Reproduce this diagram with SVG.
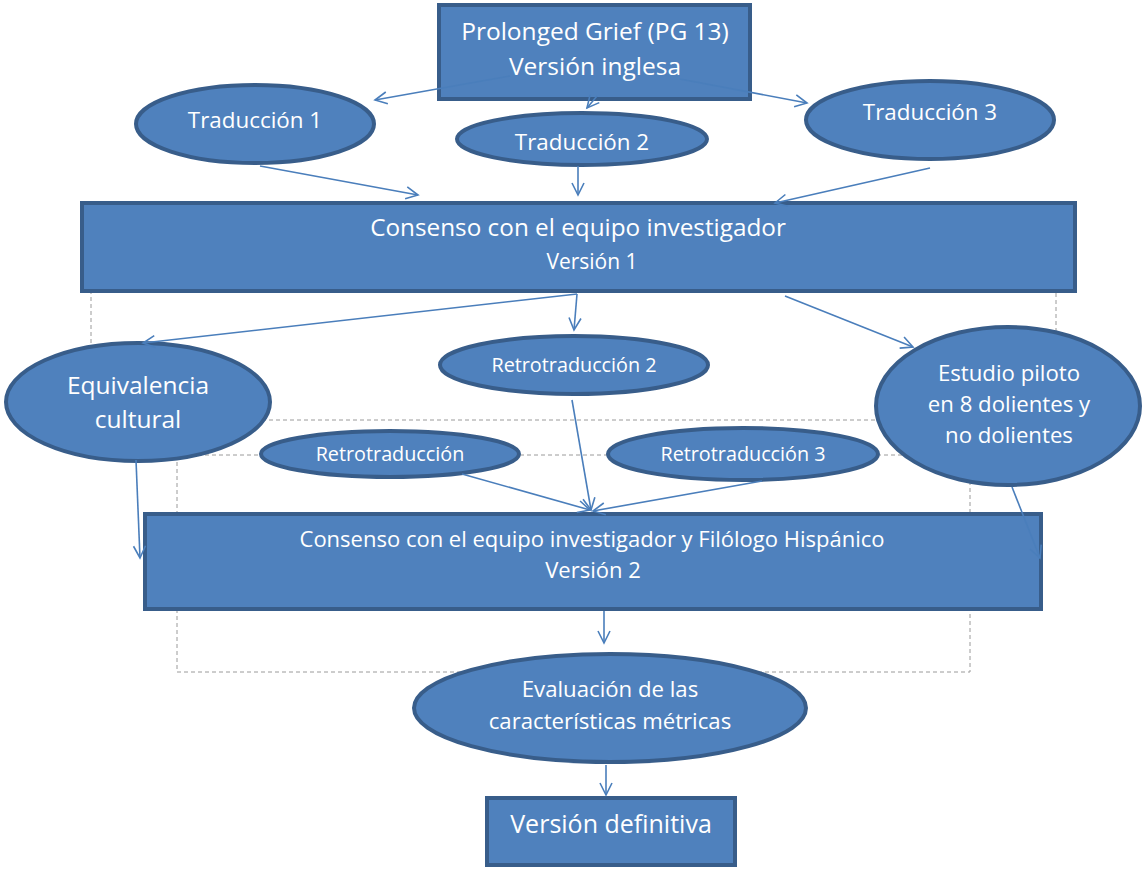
<svg xmlns="http://www.w3.org/2000/svg" width="1144" height="870" viewBox="0 0 1144 870">
<style>
.n{fill:#4F81BD;stroke:#385D8A;stroke-width:4}
.t{fill:#FFFFFF;font-family:"Open Sans","Noto Sans","Liberation Sans",sans-serif;text-anchor:middle}
.c{fill:none;stroke:#4A7EBB;stroke-width:1.6}
.d{fill:none;stroke:#9A9A9A;stroke-width:1;stroke-dasharray:4,3}
</style>
<defs>
<marker id="a" markerUnits="userSpaceOnUse" markerWidth="16" markerHeight="16" refX="13" refY="7" orient="auto">
<path d="M1,1 L13,7 L1,13" fill="none" stroke="#4A7EBB" stroke-width="1.6"/>
</marker>
</defs>
<rect width="1144" height="870" fill="#FFFFFF"/>
<g id="frames">
<rect class="d" x="91" y="292" width="965" height="128"/>
<rect class="d" x="177" y="455" width="793" height="217"/>
</g>
<g id="n1"><rect class="n" x="439" y="5" width="311" height="94"/>
<text class="t" x="595" y="40" font-size="24.5">Prolonged Grief (PG 13)</text>
<text class="t" x="595" y="75" font-size="24.5">Versión inglesa</text></g>
<g id="n2"><ellipse class="n" cx="255" cy="124" rx="119" ry="39"/>
<text class="t" x="255" y="128" font-size="22.4">Traducción 1</text></g>
<g id="n3"><ellipse class="n" cx="582" cy="139" rx="125" ry="26"/>
<text class="t" x="582" y="150" font-size="22.4">Traducción 2</text></g>
<g id="n4"><ellipse class="n" cx="930" cy="120" rx="124" ry="39"/>
<text class="t" x="930" y="120" font-size="22.4">Traducción 3</text></g>
<g id="n5"><rect class="n" x="82" y="203" width="993" height="88"/>
<text class="t" x="578" y="236" font-size="24.3">Consenso con el equipo investigador</text>
<text class="t" x="592" y="269" font-size="21">Versión 1</text></g>
<g id="n6"><ellipse class="n" cx="138" cy="402" rx="132" ry="59"/>
<text class="t" x="138" y="394" font-size="24.5">Equivalencia</text>
<text class="t" x="138" y="428" font-size="24.5">cultural</text></g>
<g id="n7"><ellipse class="n" cx="574" cy="365" rx="134" ry="29"/>
<text class="t" x="574" y="372" font-size="19.8">Retrotraducción 2</text></g>
<g id="n8"><ellipse class="n" cx="1008" cy="406" rx="132" ry="79"/>
<text class="t" x="1009" y="381" font-size="22.2">Estudio piloto</text>
<text class="t" x="1009" y="412" font-size="22.2">en 8 dolientes y</text>
<text class="t" x="1009" y="443" font-size="22.2">no dolientes</text></g>
<g id="n9"><ellipse class="n" cx="390" cy="454" rx="129" ry="23"/>
<text class="t" x="390" y="461" font-size="19.8">Retrotraducción</text></g>
<g id="n10"><ellipse class="n" cx="743" cy="454" rx="135" ry="26"/>
<text class="t" x="743" y="461" font-size="19.8">Retrotraducción 3</text></g>
<g id="n11"><rect class="n" x="145" y="514" width="896" height="95"/>
<text class="t" x="592" y="547" font-size="22">Consenso con el equipo investigador y Filólogo Hispánico</text>
<text class="t" x="593" y="578" font-size="22">Versión 2</text></g>
<g id="n12"><ellipse class="n" cx="610" cy="708" rx="196" ry="54"/>
<text class="t" x="610" y="697" font-size="22.2">Evaluación de las</text>
<text class="t" x="610" y="729" font-size="22.2">características métricas</text></g>
<g id="n13"><rect class="n" x="487" y="798" width="248" height="67"/>
<text class="t" x="611" y="833" font-size="25">Versión definitiva</text></g>
<g id="connectors">
<line class="c" x1="510" y1="76" x2="375" y2="100" marker-end="url(#a)"/>
<line class="c" x1="597" y1="96" x2="587" y2="108" marker-end="url(#a)"/>
<line class="c" x1="680" y1="79" x2="807" y2="103" marker-end="url(#a)"/>
<line class="c" x1="260" y1="166" x2="418" y2="195" marker-end="url(#a)"/>
<line class="c" x1="578" y1="166" x2="578" y2="195" marker-end="url(#a)"/>
<line class="c" x1="930" y1="168" x2="775" y2="203" marker-end="url(#a)"/>
<line class="c" x1="577" y1="294" x2="143" y2="343" marker-end="url(#a)"/>
<line class="c" x1="577" y1="294" x2="574" y2="330" marker-end="url(#a)"/>
<line class="c" x1="785" y1="296" x2="913" y2="347" marker-end="url(#a)"/>
<line class="c" x1="136" y1="460" x2="140" y2="558" marker-end="url(#a)"/>
<line class="c" x1="572" y1="400" x2="591" y2="510" marker-end="url(#a)"/>
<line class="c" x1="462" y1="474" x2="590" y2="510" marker-end="url(#a)"/>
<line class="c" x1="762" y1="481" x2="593" y2="511" marker-end="url(#a)"/>
<line class="c" x1="1012" y1="487" x2="1040" y2="558" marker-end="url(#a)"/>
<line class="c" x1="604" y1="611" x2="604" y2="643" marker-end="url(#a)"/>
<line class="c" x1="606" y1="765" x2="606" y2="795" marker-end="url(#a)"/>
</g>
</svg>
